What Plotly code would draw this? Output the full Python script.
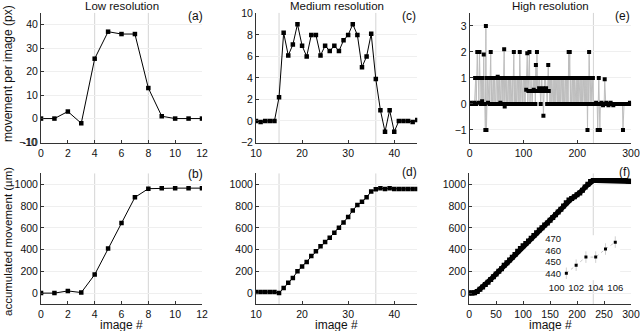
import plotly.graph_objects as go

# ---------------- data ----------------
low_x = list(range(0, 13))
low_move = [0, 0, 3, -2, 25.5, 37, 36, 36, 13, 1, 0, 0, 0]
low_acc = [0, 0, 20, 5, 170, 410, 645, 880, 960, 965, 965, 965, 965]
low_move_ticks = [-10, 0, 10, 20, 30, 40]

med_x = list(range(10, 46))
med_move = [0, -0.1, 0, 0, 0, 2.2, 8.2, 6.1, 7.1, 9, 7, 6, 8, 8, 6.1, 7, 6.5, 7, 6.5, 7.5,
            8, 9, 8, 5, 6, 8.1, 3.9, 1, -1, 1, -1, 0, 0, 0, -0.1, 0.1]
med_acc = [10, 10, 10, 10, 10, 0, 48, 95, 140, 200, 245, 285, 340, 385, 430, 470, 510, 555, 600, 650,
           700, 760, 810, 840, 880, 935, 955, 965, 958, 963, 958, 958, 958, 958, 958, 958]

high_x = list(range(0, 300))
high_move = [
    0, 0, 0.05, 0, 0, 0, 0, 0, 0, 0.05, 1, 1, 0, 1, 2, 1, 1, 0.05, 2, 1,
    1, 0, 1, 0.1, 1, 0, 1.9, 0, 0, -1, 3, -1, 1, 1, 0.05, 1, 1, 0, 1, 2,
    0, 1, 0, 1, 1, 0, 1, 0, 0, 1, 1, 0, 1.05, 1, 0, 1, 0, 0.05, 1, 1,
    0, 1, 0, 1, 2.1, -0.1, 1, 1, 0, 1, 0, 1, 1, 0, 1, 0, 1, 0, 1, 1,
    0, 1, 2, 0, 1, 0, 1, 0, 1, 1, 0, 1, 0, 2, 1, 0, 1, 0, 0, 1,
    1, 0, 1, 0, 1, 0.55, 1, 1.95, 0, 0.5, 1, 2, 0, 0.5, 1, 0.5, 0, 0.5, 1, 0.55,
    0.5, 1, 0, 1.5, 0.5, 2, 0.5, 1, 0.5, 0.6, 1, 0.5, 0, 0.5, 1, 0.5, 0.6, -0.45, 0.5, 1,
    0.5, 1, 0.6, 0.5, 0, 1, 1.5, 0.5, 1, 0, 1, 0, 1, 0, 1, 1, 0, 1, 0, 1,
    0, 1, 1, 0, 1, 0, 1, 0, 1, 0, 1, 1, 0, 1, 0, 1, 0, 1, 1, 0,
    1, 0, 1, 0, 2, 1, 2, 0, 1, 0, 1, 1, 0, 1, 0, 1, 0, 1, 1, 0,
    1, 0, 1, 0, 1, 1, 0, 1, 0, 1, 0, 1, 1, 0, 1, 0, 1, 0, 1, -1,
    1, 0, 2, 1, 0, 1, 1, 0, 1, 1, 0, 0, 0, 0, 0, 0.05, 0, 0, -1, 0,
    1, 0, -1, 0, 0, 0.05, 0, 0, -0.05, 0, 0, 0.95, 0, 0, 0.05, 0, 0, 0, -0.05, 0,
    0, 0, 0.05, 0, 0, 0, 0, -0.05, 0, 0, 0, 0, 0, 0, 0, 0, 0, 0, 0, 0,
    0, 0, 0, 0, 0, -1, 0, 0, 0, 0, 0, 0, 0, 0, 0, 0, 0, 0, 0.05, 0,
]
high_acc_x = list(range(0, 301, 5))
high_acc = [0, 0, 3, 15, 35, 55, 80, 100, 125, 150, 175, 200, 225, 255, 280, 305, 330, 355, 385, 410,
            435, 455, 480, 505, 530, 555, 580, 600, 625, 645, 670, 695, 720, 745, 770, 800, 830, 855, 870, 885,
            905, 920, 945, 975, 1000, 1025, 1035, 1035, 1035, 1035, 1035, 1035, 1035, 1035, 1035, 1035, 1035, 1035, 1035, 1030,
            1025]

inset_x = [101, 102, 103, 104, 105, 106]
inset_y = [440, 447, 454, 454, 461, 467]
inset_err = [5, 5, 5, 5, 5, 5]

boundaries_low = [4, 8]
boundaries_med = [15, 36]
boundaries_high = [230]

titles = ["Low resolution", "Medium resolution", "High resolution"]
panel_labels = ["(a)", "(c)", "(e)", "(b)", "(d)", "(f)"]

# ---------------- figure ----------------
FONT = "Liberation Sans, Arial, sans-serif"
W, H = 640, 331
fig = go.Figure()

mk = dict(symbol="square", size=4.5, color="black")
fig.add_trace(go.Scatter(x=low_x, y=low_move, mode="lines+markers", line=dict(color="black", width=1),
                         marker=mk, xaxis="x", yaxis="y"))
fig.add_trace(go.Scatter(x=med_x, y=med_move, mode="lines+markers", line=dict(color="black", width=1),
                         marker=mk, xaxis="x2", yaxis="y2"))
fig.add_trace(go.Scatter(x=high_x, y=high_move, mode="lines+markers", line=dict(color="#bdbdbd", width=1),
                         marker=dict(symbol="square", size=4, color="black"), xaxis="x3", yaxis="y3"))
fig.add_trace(go.Scatter(x=low_x, y=low_acc, mode="lines+markers", line=dict(color="black", width=1),
                         marker=mk, xaxis="x4", yaxis="y4"))
fig.add_trace(go.Scatter(x=med_x, y=med_acc, mode="lines+markers", line=dict(color="black", width=1),
                         marker=mk, xaxis="x5", yaxis="y5"))
fig.add_trace(go.Scatter(x=high_acc_x, y=high_acc, mode="lines+markers", line=dict(color="black", width=5),
                         marker=dict(symbol="square", size=5, color="black"), xaxis="x6", yaxis="y6"))
fig.add_trace(go.Scatter(x=inset_x, y=inset_y, mode="lines+markers",
                         line=dict(color="#c8c8c8", width=1, dash="dot"),
                         marker=dict(symbol="square", size=3, color="black"),
                         error_y=dict(type="data", array=inset_err, color="#d0d0d0", thickness=1, width=0),
                         xaxis="x7", yaxis="y7"))

xdom = [[0.0641, 0.3156], [0.400, 0.652], [0.734, 0.986]]
ytop = [0.568, 0.961]
ybot = [0.0816, 0.476]

tickfont = dict(family=FONT, size=10.5, color="#111")


def xax(dom, rng, dtick, anchor):
    return dict(domain=dom, range=rng, dtick=dtick, anchor=anchor, showline=True, linecolor="#333",
                linewidth=1, ticks="inside", ticklen=3, tickcolor="#333", showgrid=False,
                zeroline=False, tickfont=tickfont, automargin=False, ticklabeloverflow="allow",
                tickangle=0)


def yax(dom, rng, dtick, anchor, tick0=0):
    return dict(domain=dom, range=rng, dtick=dtick, tick0=tick0, anchor=anchor, showline=True,
                linecolor="#333", linewidth=1, ticks="inside", ticklen=3, tickcolor="#333",
                showgrid=True, gridcolor="#efefef", gridwidth=1, zeroline=False, tickfont=tickfont,
                automargin=False, ticklabeloverflow="allow")


ya = yax(ytop, [-10.4, 45], 10, "x")
ya.update(tickmode="array", tickvals=low_move_ticks, ticktext=[str(v) for v in low_move_ticks])

insetfont = dict(family=FONT, size=9.5, color="#111")
layout = dict(
    template="none",
    width=W, height=H, margin=dict(l=0, r=0, t=0, b=0, pad=0), autosize=False,
    paper_bgcolor="white", plot_bgcolor="white", showlegend=False,
    font=dict(family=FONT, size=12, color="#111"),
    xaxis=xax(xdom[0], [0, 12], 2, "y"),
    yaxis=ya,
    xaxis2=xax(xdom[1], [10, 45], 10, "y2"),
    yaxis2=yax(ytop, [-2.05, 10.05], 2, "x2"),
    xaxis3=xax(xdom[2], [0, 300], 100, "y3"),
    yaxis3=yax(ytop, [-1.5, 3.5], 1, "x3"),
    xaxis4=xax(xdom[0], [0, 12], 2, "y4"),
    yaxis4=yax(ybot, [-100, 1100], 200, "x4"),
    xaxis5=xax(xdom[1], [10, 45], 10, "y5"),
    yaxis5=yax(ybot, [-100, 1100], 200, "x5"),
    xaxis6=xax([0.733, 0.986], [0, 300], 50, "y6"),
    yaxis6=yax(ybot, [-100, 1100], 200, "x6"),
    xaxis7=dict(domain=[0.862, 0.969], range=[99.5, 106.5], dtick=2, tick0=100, anchor="y7",
                showline=False, showgrid=False, zeroline=False, ticks="", tickfont=insetfont,
                automargin=False, tickangle=0, ticklabeloverflow="allow"),
    yaxis7=dict(domain=[0.1535, 0.2894], range=[434, 473], dtick=10, tick0=440, anchor="free",
                position=561 / W,
                showline=False, showgrid=False, zeroline=False, ticks="", tickfont=insetfont,
                automargin=False, ticklabeloverflow="allow"),
)
fig.update_layout(**layout)

# phase boundary lines
shapes = []
for xs, xa, yref in [(boundaries_low, "x", "y"), (boundaries_med, "x2", "y2"), (boundaries_high, "x3", "y3"),
                     (boundaries_low, "x4", "y4"), (boundaries_med, "x5", "y5"), (boundaries_high, "x6", "y6")]:
    for b in xs:
        shapes.append(dict(type="line", xref=xa, yref=yref + " domain", x0=b, x1=b, y0=0, y1=1,
                           line=dict(color="#d4d4d4", width=1), layer="below"))
fig.update_layout(shapes=shapes)

ann = []
for t, d in zip(titles, xdom):
    ann.append(dict(text=t, x=(d[0] + d[1]) / 2, y=1 - 6 / H, xref="paper", yref="paper",
                    xanchor="center", yanchor="middle", showarrow=False, font=dict(size=11.5, family=FONT)))
# panel labels (right edge px, centre y px)
lab_pos = [(205, 15.5), (418, 16), (632, 16), (205, 173.5), (419, 172), (632, 172)]
for lab, (px, py) in zip(panel_labels, lab_pos):
    ann.append(dict(text=lab, x=px / W, y=1 - py / H, xref="paper", yref="paper", xanchor="right",
                    yanchor="middle", showarrow=False, font=dict(size=12, family=FONT)))
ann.append(dict(text="movement per image (px)", x=8 / W, y=1 - 74 / H, xref="paper", yref="paper",
                xanchor="center", yanchor="middle",
                textangle=-90, showarrow=False, font=dict(size=12, family=FONT)))
ann.append(dict(text="accumulated movement (µm)", x=8 / W, y=1 - 242 / H, xref="paper", yref="paper",
                xanchor="center", yanchor="middle",
                textangle=-90, showarrow=False, font=dict(size=11.5, family=FONT)))
for d in xdom:
    ann.append(dict(text="image #", x=(d[0] + d[1]) / 2, y=1 - 324.5 / H, xref="paper", yref="paper",
                    xanchor="center", yanchor="middle", showarrow=False, font=dict(size=12, family=FONT)))
# lowest tick label of panel (a), which plotly drops at the corner
ann.append(dict(text="\u2212" + str(abs(low_move_ticks[0])), x=0, y=low_move_ticks[0],
                xref="x domain", yref="y", xanchor="right", yanchor="middle", xshift=-2,
                showarrow=False, font=tickfont))
fig.update_layout(annotations=ann)

fig.write_html("out.html", config={"displayModeBar": False},
               post_script="document.body.style.margin='0';document.body.style.padding='0';"
                           "document.body.style.overflow='hidden';")
